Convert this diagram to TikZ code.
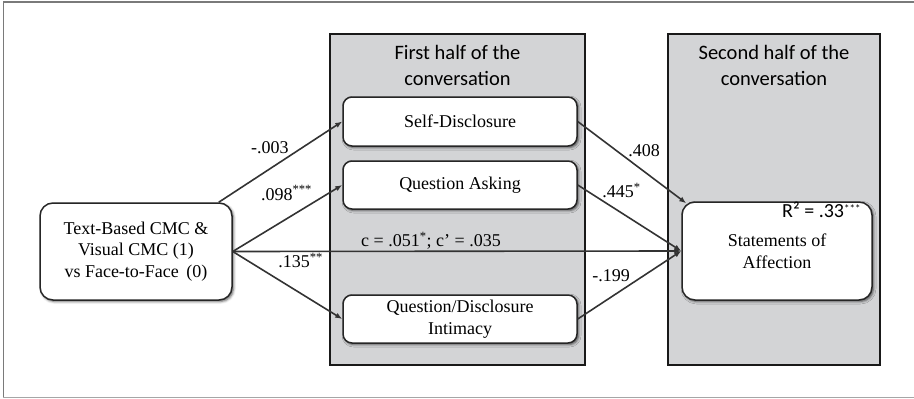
\documentclass[tikz,border=0pt]{standalone}
\usepackage{fontspec}
\setmainfont{Liberation Serif}
\newfontfamily\titlefont{Carlito}
\usetikzlibrary{positioning,calc,arrows.meta,shadows.blur}

\definecolor{panelgrey}{HTML}{D3D4D6}
\definecolor{linkgrey}{HTML}{333333}
\definecolor{framegrey}{HTML}{7A7A7A}

\newcommand{\rstars}{\raisebox{4.5pt}{\fontsize{11}{11}\selectfont ***}}

\tikzset{
  panel/.style={draw=black!90, line width=1.5pt, fill=panelgrey,
    minimum width=255pt, minimum height=331pt, inner sep=0pt},
  varbox/.style={draw=black!85, line width=1.5pt, fill=white,
    rounded corners=9pt, align=center, inner sep=2pt,
    minimum width=234pt, minimum height=48pt,
    blur shadow={shadow xshift=1.5pt, shadow yshift=-1.5pt,
      shadow blur radius=2.5pt, shadow opacity=65}},
  paneltitle/.style={font=\titlefont\fontsize{20.5}{26}\selectfont, align=center},
  link/.style={-{Latex[length=7pt,width=5.5pt]}, draw=linkgrey, line width=1.6pt},
  coef/.style={inner sep=1pt}
}

\begin{document}
\begin{tikzpicture}[x=1pt, y=-1pt, font=\fontsize{18}{21.5}\selectfont]

  \useasboundingbox (0,0) rectangle (914,399);

  % frame
  \draw[framegrey, line width=1.5pt] (914,2) -- (3,2);
  \draw[framegrey, line width=0.8pt] (3,2) -- (3,397);
  \draw[black!35, line width=0.8pt] (3,397) -- (914,397);

  % two halves of the conversation
  \node[panel] (first) at (457.5,199.5) {};
  \node[panel, minimum width=212pt] (second) at (774,199.5) {};
  \node[paneltitle] (firsttitle) at (457.5,65) {First half of the\\conversation};
  \node[paneltitle] (secondtitle) at (774,65) {Second half of the\\conversation};

  % variables
  \node[varbox, minimum width=192pt, minimum height=97pt, rounded corners=13pt]
    (src) at (136,251.5) {Text-Based CMC \&\\Visual CMC (1)\\vs Face-to-Face\, (0)};
  \node[varbox, minimum height=49pt] (sd) at (460,121.5) {Self-Disclosure};
  \node[varbox] (qa) at (460,185) {Question Asking};
  \node[varbox] (qdi) at (460,319) {Question/Disclosure\\Intimacy};
  \node[varbox, minimum width=190pt, minimum height=98pt, rounded corners=13pt]
    (stmt) at (777,251) {Statements of\\Affection};
  \node[font=\titlefont\fontsize{20}{22}\selectfont, inner sep=1pt, anchor=base east]
    (rsq) at ($(stmt.north east)+(-11,16)$) {R² = .33\rstars};

  \coordinate (srccorner) at ($(src.north east)+(-14,0)$);
  \coordinate (stmtcorner) at ($(stmt.north west)+(5,2)$);

  % paths a
  \draw[link] (srccorner) -- (sd.west)
    node[coef, pos=0.58, anchor=south east] (a1) {-.003};
  \draw[link] (src.east) -- (qa.west)
    node[coef, pos=0.74, anchor=south east] (a2) {.098\textsuperscript{***}};
  \draw[link] (src.east) -- (qdi.west)
    node[coef, pos=0.4, anchor=south west, yshift=9pt] (a3) {.135\textsuperscript{**}};

  % direct path
  \draw[link] (src.east) -- (stmt.west)
    node[coef, pos=0.442, above] (cc) {c = .051\textsuperscript{*}; c’ = .035};

  % paths b
  \draw[link] (sd.east) -- (stmtcorner)
    node[coef, pos=0.45, anchor=south west] (b1) {.408};
  \draw[link] (qa.east) -- (stmt.west)
    node[coef, pos=0.22, anchor=south west] (b2) {.445\textsuperscript{*}};
  \draw[link] (qdi.east) -- (stmt.west)
    node[coef, pos=0.52, anchor=south east] (b3) {-.199};

\end{tikzpicture}
\end{document}
